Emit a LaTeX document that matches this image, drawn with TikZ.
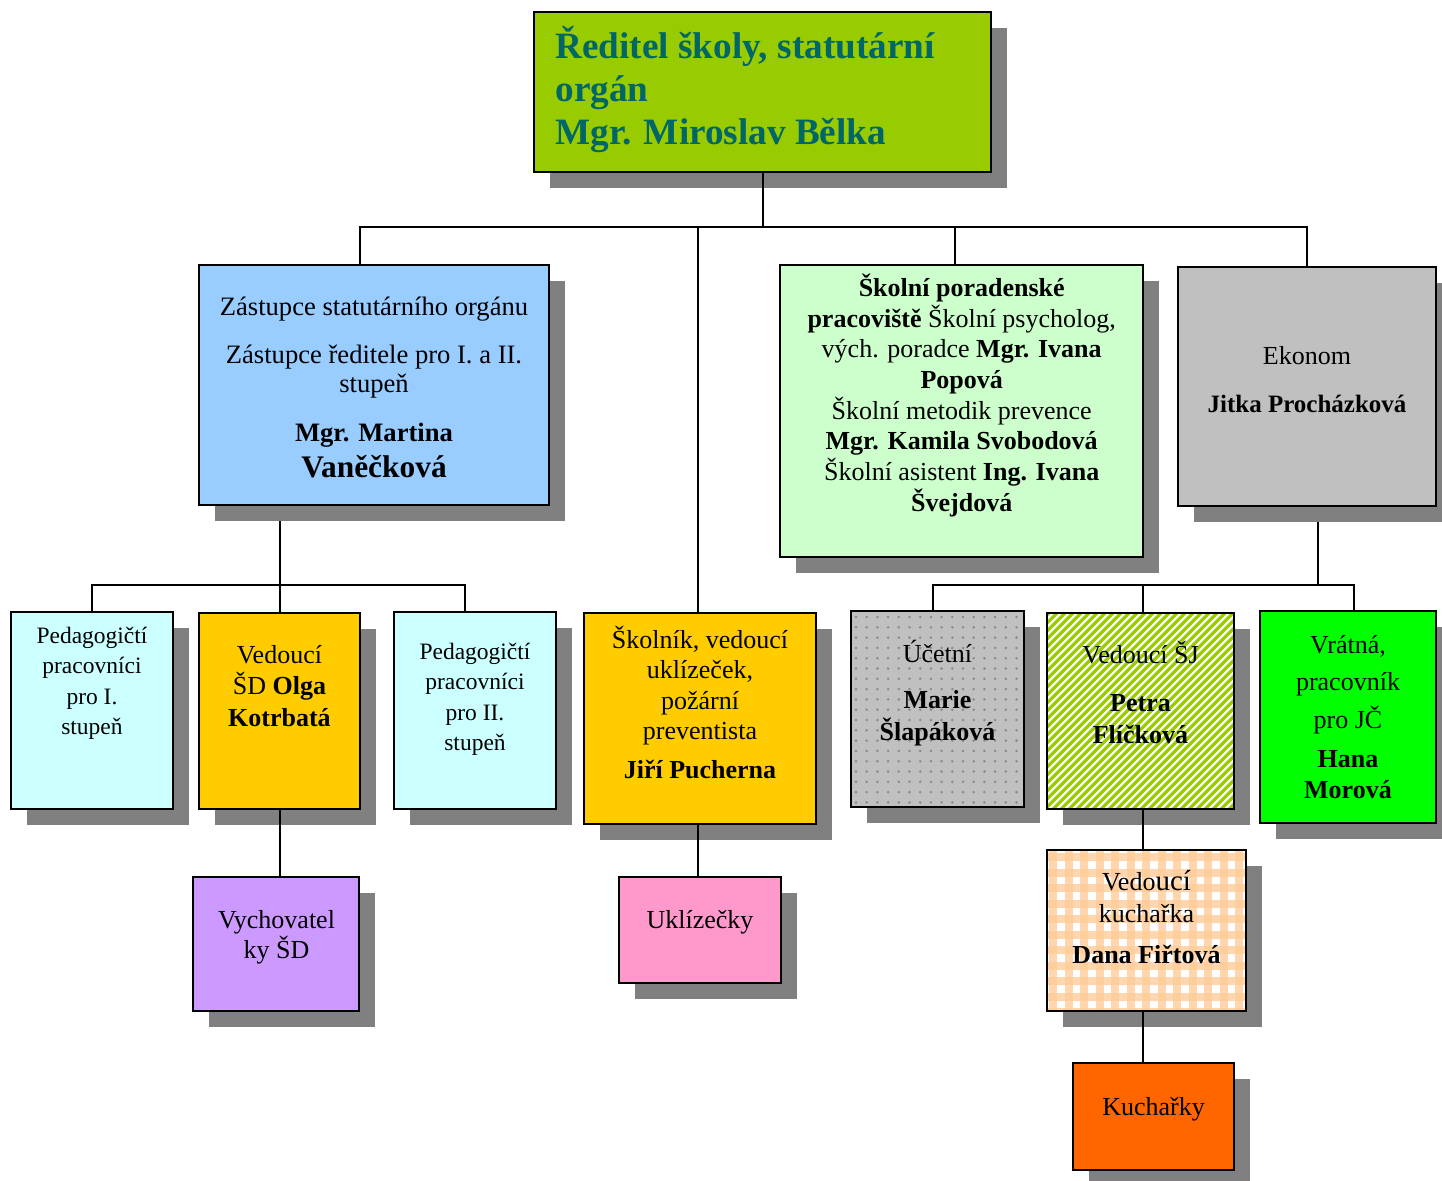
\documentclass[tikz,border=0pt]{standalone}
\usepackage{fontspec}
\setmainfont{Liberation Serif}
\usetikzlibrary{fit,calc}
\definecolor{cTop}{HTML}{99CC00}
\definecolor{cTeal}{HTML}{006666}
\definecolor{cBlue}{HTML}{99CCFF}
\definecolor{cMint}{HTML}{CCFFCC}
\definecolor{cSilver}{HTML}{C0C0C0}
\definecolor{cCyan}{HTML}{CCFFFF}
\definecolor{cGold}{HTML}{FFCC00}
\definecolor{cLilac}{HTML}{CC99FF}
\definecolor{cPink}{HTML}{FF99CC}
\definecolor{cLime}{HTML}{00FF00}
\definecolor{cOrange}{HTML}{FF6600}
\definecolor{cPeach}{HTML}{FFCC99}
\definecolor{cShadow}{HTML}{808080}
\definecolor{cDot}{HTML}{8A8A8A}
\newcommand\fs[2]{\fontsize{#1}{#2}\selectfont\lineskiplimit=-50pt\relax}
\newcommand\st{\rule{0pt}{1.1em}}
\newcommand\orgbox[6]{%
  \node[shadowbox, fit={(#2+16,#3+16) (#4+16,#5+16)}] (#1S) {};
  \node[box, fit={(#2,#3) (#4,#5)}, #6] (#1) {};}
\begin{document}
\begin{tikzpicture}[x=0.5pt,y=-0.5pt,
  box/.style={draw=black, line width=1pt, inner sep=0pt, outer sep=0pt},
  shadowbox/.style={fill=cShadow, inner sep=0pt, outer sep=0pt},
  conn/.style={draw=black, line width=1pt},
  txt/.style={align=center, inner sep=0pt, anchor=north}]
\fill[white] (0,0) rectangle (1442,1180);
\useasboundingbox (0,0) rectangle (1442,1180);

% boxes with shadows
\orgbox{top}{534}{12}{991}{172}{fill=cTop}
\orgbox{blue}{199}{265}{549}{505}{fill=cBlue}
\orgbox{mint}{780}{265}{1143}{557}{fill=cMint}
\orgbox{eko}{1178}{267}{1436}{506}{fill=cSilver}
\orgbox{ped1}{11}{612}{173}{809}{fill=cCyan}
\orgbox{vsd}{199}{613}{360}{809}{fill=cGold}
\orgbox{ped2}{394}{612}{556}{809}{fill=cCyan}
\orgbox{skol}{584}{613}{816}{824}{fill=cGold}
\orgbox{vych}{193}{877}{359}{1011}{fill=cLilac}
\orgbox{ukl}{619}{877}{781}{983}{fill=cPink}
\orgbox{ucet}{851}{611}{1024}{807}{fill=cSilver, path picture={\coordinate (pp) at (path picture bounding box.north west); \foreach \i in {0,...,16}{\foreach \j in {0,...,19}{\fill[cDot] ($(pp)+(5+\i*10.7,6+\j*10.3)$) circle[radius=0.7pt];}}}}
\orgbox{sj}{1047}{613}{1234}{809}{fill=white, path picture={\coordinate (pp) at (path picture bounding box.north west); \foreach \k in {0,...,52}{\draw[cTop, line width=1.6pt] ($(pp)+(-220+\k*8,206)$) -- ++(230,-230);}}}
\orgbox{vrat}{1260}{611}{1436}{823}{fill=cLime}
\orgbox{vkuch}{1047}{850}{1246}{1011}{fill=white, path picture={\coordinate (pp) at (path picture bounding box.north west); \foreach \k in {0,...,13}{\fill[cPeach, opacity=0.8] ($(pp)+(2+\k*15.5,-3)$) rectangle ++(8,168); \fill[cPeach, opacity=0.8] ($(pp)+(-3,3+\k*15.5)$) rectangle ++(206,8);}}}
\orgbox{kuchy}{1073}{1063}{1234}{1170}{fill=cOrange}

% connectors
\draw[conn] ($(blue.north)+(-14,0)$) -- ++(0,-38) coordinate (busA) -| (eko.north);
\draw[conn] (top.south) -- (top.south |- busA);
\draw[conn] ($(skol.north)+(-2,0)$) coordinate (k1) -- (k1 |- busA);
\draw[conn] ($(mint.north)+(-6.7,0)$) coordinate (m1) -- (m1 |- busA);
\draw[conn] (ped1.north) -- ++(0,-26.7) coordinate (busB) -| ($(ped2.north)+(-10,0)$);
\draw[conn] (vsd.north) -- (vsd.north |- blueS.south);
\draw[conn] (vsd.south) -- (vsd.south |- vych.north);
\draw[conn] ($(skol.south)+(-2,0)$) coordinate (k2) -- (k2 |- ukl.north);
\draw[conn] ($(ucet.north)+(-4.5,0)$) -- ++(0,-26.5) coordinate (busC) -| ($(vrat.north)+(6,0)$);
\draw[conn] ($(ekoS.south)+(-5,0)$) coordinate (e1) -- (e1 |- busC);
\draw[conn] ($(sj.north)+(2.6,0)$) coordinate (s1) -- (s1 |- busC);
\draw[conn] ($(sj.south)+(2.6,0)$) coordinate (s2) -- (s2 |- vkuch.north);
\draw[conn] (s2 |- vkuch.south) -- (s2 |- kuchy.north);

% texts
\node[txt, anchor=north west, align=left, text=cTeal, font=\fs{18.6}{21.5}\bfseries] (ttop) at (555,17.1) {\st Ředitel školy, statutární\\ orgán\\ Mgr. Miroslav Bělka};
\node[txt, font=\fs{13.3}{14.5}] (tblue) at (374,285.7) {\st Zástupce statutárního orgánu\\[9.35pt] Zástupce ředitele pro I. a II.\\ stupeň\\[10.15pt] \textbf{Mgr. Martina}\\[3.35pt] {\fs{15.7}{14.5}\bfseries Vaněčková}};
\node[txt, font=\fs{13}{15.35}] (tmint) at (961.7,267.4) {\st\textbf{Školní poradenské}\\ \textbf{pracoviště} Školní psycholog,\\ vých. poradce \textbf{Mgr. Ivana}\\ \textbf{Popová}\\ Školní metodik prevence\\ \textbf{Mgr. Kamila Svobodová}\\ Školní asistent \textbf{Ing. Ivana}\\ \textbf{Švejdová}};
\node[txt, font=\fs{13}{15.35}] (teko) at (1307,335.7) {\st Ekonom\\[8.35pt] {\fs{12.5}{15.35}\bfseries Jitka Procházková}};
\node[txt, font=\fs{11.75}{15.25}] (tped1) at (92,617.15) {\st Pedagogičtí\\ pracovníci\\ pro I.\\ stupeň};
\node[txt, font=\fs{13}{15.75}] (tvsd) at (279.4,634.4) {\st Vedoucí\\ ŠD \textbf{Olga}\\ \textbf{Kotrbatá}};
\node[txt, font=\fs{11.75}{15.25}] (tped2) at (475,633.15) {\st Pedagogičtí\\ pracovníci\\ pro II.\\ stupeň};
\node[txt, font=\fs{13}{15.3}] (tskol) at (700,619.1) {\st Školník, vedoucí\\ uklízeček,\\ požární\\ preventista\\[4.2pt] \textbf{Jiří Pucherna}};
\node[txt, font=\fs{13}{15.35}] (tukl) at (700,899.7) {\st Uklízečky};
\node[txt, font=\fs{13}{15.3}] (tvych) at (276.5,899.1) {\st Vychovatel\\ ky ŠD};
\node[txt, font=\fs{13}{15.85}] (tucet) at (937.5,633.1) {\st Účetní\\[7.45pt] \textbf{Marie}\\ \textbf{Šlapáková}};
\node[txt, font=\fs{13}{15.85}] (tsj) at (1140.5,634.7) {\st Vedoucí ŠJ\\[8pt] \textbf{Petra}\\ \textbf{Flíčková}};
\node[txt, font=\fs{13}{15.8}] (tvrat) at (1348,624.7) {\st Vrátná,\\[2.55pt] pracovník\\[3.35pt] pro JČ\\[3.4pt] \textbf{Hana}\\ \textbf{Morová}};
\node[txt, font=\fs{13}{15.85}] (tvkuch) at (1146.5,861.4) {\st Vedo{\fs{14.5}{15.85}ucí}\\ kuchařka\\[4.65pt] \textbf{Dana Fiřtová}};
\node[txt, font=\fs{13}{15.35}] (tkuchy) at (1153.5,1086.4) {\st Kuchařky};
\end{tikzpicture}
\end{document}
